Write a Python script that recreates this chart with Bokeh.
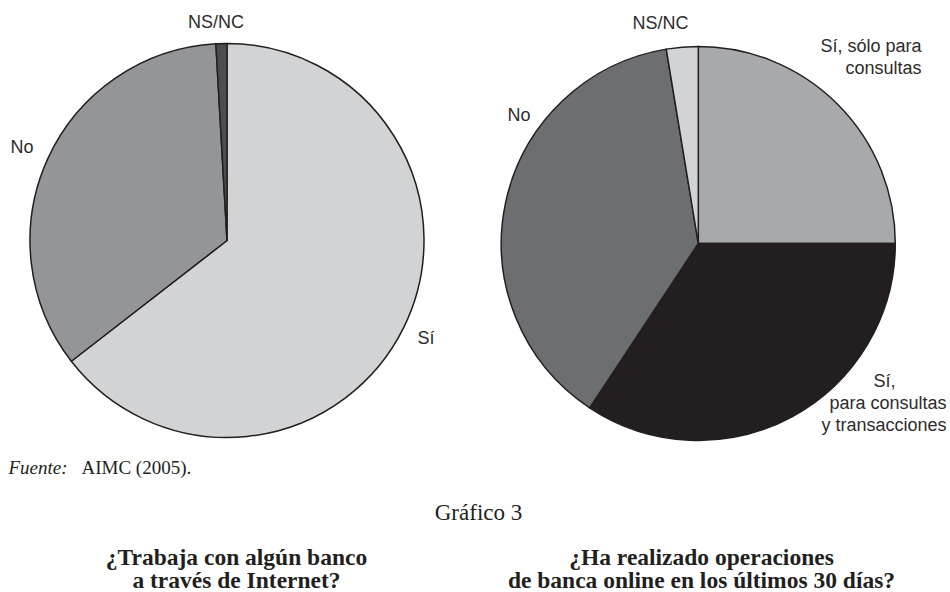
import numpy as np
from bokeh.plotting import figure
from bokeh.models import ColumnDataSource, Range1d
from bokeh.core.properties import value
from bokeh.embed import file_html
from bokeh.resources import INLINE

W, H = 950, 592

# ¿Trabaja con algún banco a través de Internet? (%)
banco_labels = ["Sí", "No", "NS/NC"]
banco_values = [64.5, 34.6, 0.9]
banco_colors = ["#d1d3d4", "#939598", "#4d4d4f"]

# ¿Ha realizado operaciones de banca online en los últimos 30 días? (%)
oper_labels = ["Sí, sólo para\nconsultas", "Sí,\npara consultas\ny transacciones", "No", "NS/NC"]
oper_values = [25.0, 34.3, 38.1, 2.6]
oper_colors = ["#a7a9ac", "#231f20", "#6d6e71", "#d1d3d4"]

INK = "#231f20"
SANS = value("Liberation Sans")
SERIF = value("Liberation Serif")


def wedge_source(values, colors):
    """Slices start at 12 o'clock and run clockwise."""
    v = np.asarray(values, dtype=float)
    after = np.cumsum(v) / v.sum()
    before = np.concatenate([[0.0], after[:-1]])
    return ColumnDataSource(dict(
        start=np.pi / 2 - 2 * np.pi * after,
        end=np.pi / 2 - 2 * np.pi * before,
        color=colors,
    ))


p = figure(width=W, height=H, x_range=Range1d(0, W), y_range=Range1d(0, H),
           min_border=0, toolbar_location=None, output_backend="svg",
           x_axis_location=None, y_axis_location=None)
p.outline_line_color = None
p.grid.grid_line_color = None
p.background_fill_color = "white"
p.border_fill_color = "white"

R = 197
pies = [
    (226.5, 240.0, banco_values, banco_colors),
    (697.8, 243.0, oper_values, oper_colors),
]
for cx, cy, vals, cols in pies:
    p.wedge(x=cx, y=H - cy, radius=R, start_angle="start", end_angle="end",
            direction="anticlock", fill_color="color", line_color=INK,
            line_width=1.5, line_join="round", source=wedge_source(vals, cols))

# slice labels: (label, x, first baseline from top, per-line alignment)
LINE = 22
label_spots = [
    (banco_labels[0], 417, 337, ["left"]),
    (banco_labels[1], 10, 146, ["left"]),
    (banco_labels[2], 215.5, 21, ["center"]),
    (oper_labels[0], 921, 45, ["right", "right"]),
    (oper_labels[1], 946, 380, ["center", "right", "right"]),
    (oper_labels[2], 507, 114, ["left"]),
    (oper_labels[3], 660, 22, ["center"]),
]
lx, ly, lt, la = [], [], [], []
for text, x, y0, aligns in label_spots:
    for i, line in enumerate(text.split("\n")):
        align = aligns[i]
        xx = x
        if align == "center" and len(aligns) > 1:
            xx = 884
        lx.append(xx)
        ly.append(H - (y0 + i * LINE))
        lt.append(line)
        la.append(align)
p.text(x="x", y="y", text="text", text_align="align",
       source=ColumnDataSource(dict(x=lx, y=ly, text=lt, align=la)),
       text_font=SANS, text_font_size="18px", text_color="#2e2b2c",
       text_baseline="alphabetic")

# source note
p.text(x=[8], y=[H - 467], text=["Fuente:"], text_font=SERIF,
       text_font_style="italic", text_font_size="19px", text_color=INK,
       text_baseline="alphabetic")
p.text(x=[81], y=[H - 467], text=["AIMC (2005)."], text_font=SERIF,
       text_font_size="19px", text_color=INK, text_baseline="alphabetic")

# figure caption and the two questions
p.text(x=[478], y=[H - 512], text=["Gráfico 3"], text_font=SERIF,
       text_font_size="23px", text_color=INK, text_align="center",
       text_baseline="alphabetic")
titles = [
    (236, ["¿Trabaja con algún banco", "a través de Internet?"]),
    (701, ["¿Ha realizado operaciones", "de banca online en los últimos 30 días?"]),
]
tx, ty, tt = [], [], []
for x, lines in titles:
    for i, line in enumerate(lines):
        tx.append(x)
        ty.append(H - (556 + i * 23))
        tt.append(line)
p.text(x=tx, y=ty, text=tt, text_font=SERIF, text_font_style="bold",
       text_font_size="23.5px", text_color=INK, text_align="center",
       text_baseline="alphabetic")

open("out.html", "w").write(file_html(p, INLINE))
